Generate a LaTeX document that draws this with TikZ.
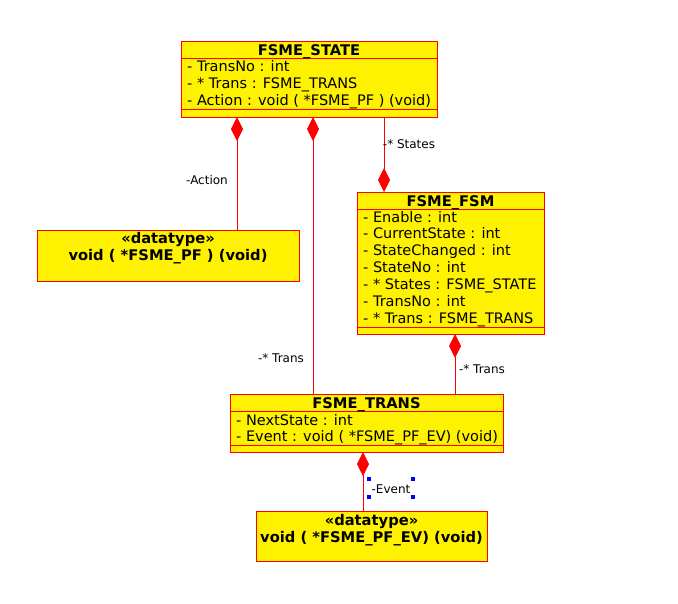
\documentclass[tikz,border=0pt]{standalone}
\usepackage{fontspec}
\setmainfont{DejaVu Sans}
\usetikzlibrary{arrows.meta}
\begin{document}
\begin{tikzpicture}[x=1pt,y=-1pt,
  cls/.style={draw=red, fill=yellow, line width=0.8pt, inner sep=0pt, outer sep=0pt, anchor=north west},
  ttl/.style={font=\fontsize{14.7}{16}\selectfont\bfseries, inner sep=0pt, anchor=base},
  attr/.style={font=\fontsize{14.5}{16}\selectfont, anchor=base west, inner sep=0pt},
  lbl/.style={font=\fontsize{12}{14}\selectfont, inner sep=0pt},
  sep/.style={draw=red, line width=0.8pt},
  comp/.style={draw=red, line width=0.8pt, -{Diamond[length=24pt,width=12pt,fill=red]}},
  handle/.style={fill=blue, draw=none, minimum size=4pt, inner sep=0pt}
]
\useasboundingbox (0,0) rectangle (678,603);
\fill[white] (0,0) rectangle (678,603);

% FSME_STATE
\node[cls, minimum width=256pt, minimum height=76pt] (state) at (181,41) {};
\draw[sep] (181,58) -- (437,58);
\draw[sep] (181,109) -- (437,109);
\node[ttl] (stateT) at (309,55) {FSME\_STATE};
\node[attr] (stateA1) at (187,71.5) {- TransNo : int};
\node[attr] (stateA2) at (187,88.5) {- * Trans : FSME\_TRANS};
\node[attr] (stateA3) at (187,105.5) {- Action : void ( *FSME\_PF ) (void)};

% FSME_FSM
\node[cls, minimum width=187pt, minimum height=142pt] (fsm) at (357,192) {};
\draw[sep] (357,209) -- (544,209);
\draw[sep] (357,327) -- (544,327);
\node[ttl] (fsmT) at (450.5,206) {FSME\_FSM};
\node[attr] (fsmA1) at (363,222) {- Enable : int};
\node[attr] (fsmA2) at (363,238.8) {- CurrentState : int};
\node[attr] (fsmA3) at (363,255.7) {- StateChanged : int};
\node[attr] (fsmA4) at (363,272.5) {- StateNo : int};
\node[attr] (fsmA5) at (363,289.3) {- * States : FSME\_STATE};
\node[attr] (fsmA6) at (363,306.2) {- TransNo : int};
\node[attr] (fsmA7) at (363,323) {- * Trans : FSME\_TRANS};

% datatype PF
\node[cls, minimum width=262pt, minimum height=51pt] (pf) at (37,230) {};
\node[ttl] (pfS) at (168,243) {«datatype»};
\node[ttl] (pfT) at (168,260) {void ( *FSME\_PF ) (void)};

% FSME_TRANS
\node[cls, minimum width=273pt, minimum height=58pt] (trans) at (230,394) {};
\draw[sep] (230,411) -- (503,411);
\draw[sep] (230,445) -- (503,445);
\node[ttl] (transT) at (366.5,408) {FSME\_TRANS};
\node[attr] (transA1) at (236,425) {- NextState : int};
\node[attr] (transA2) at (236,441.5) {- Event : void ( *FSME\_PF\_EV) (void)};

% datatype PF_EV
\node[cls, minimum width=231pt, minimum height=50pt] (pfev) at (256,511) {};
\node[ttl] (pfevS) at (371.5,525) {«datatype»};
\node[ttl] (pfevT) at (371.5,542) {void ( *FSME\_PF\_EV) (void)};

% attachment points
\coordinate (sA) at (237,117);
\coordinate (pfA) at (237,230);
\coordinate (sB) at (313,117);
\coordinate (tB) at (313,394);
\coordinate (sC) at (384,117);
\coordinate (fC) at (384,192);
\coordinate (fD) at (455,334);
\coordinate (tD) at (455,394);
\coordinate (tE) at (363,452);
\coordinate (eE) at (363,511);

% connectors
\draw[comp] (pfA) -- (sA);
\draw[comp] (tB) -- (sB);
\draw[comp] (sC) -- (fC);
\draw[comp] (tD) -- (fD);
\draw[comp] (eE) -- (tE);

% labels
\node[lbl] (l1) at (207,180) {-Action};
\node[lbl] (l2) at (281,358) {-* Trans};
\node[lbl] (l3) at (409,144) {-* States};
\node[lbl] (l4) at (482,369) {-* Trans};
\node[lbl] (l5) at (391,489) {-Event};

% selection handles
\node[handle] (h1) at (369,479) {};
\node[handle] (h2) at (413,479) {};
\node[handle] (h3) at (369,497) {};
\node[handle] (h4) at (413,497) {};
\end{tikzpicture}
\end{document}
